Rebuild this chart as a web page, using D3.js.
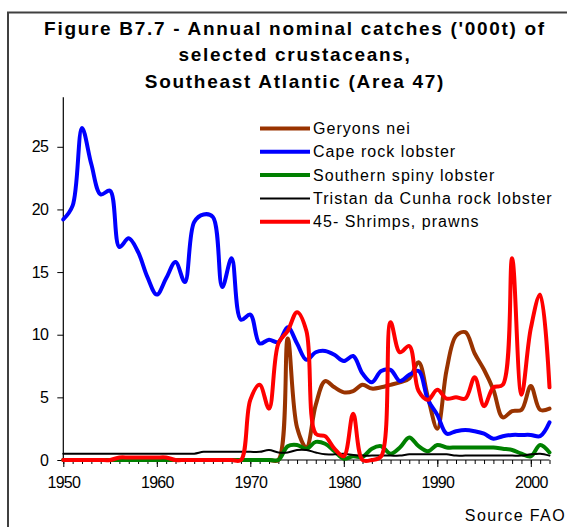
<!DOCTYPE html>
<html>
<head>
<meta charset="utf-8">
<script src="https://cdn.jsdelivr.net/npm/d3@7/dist/d3.min.js"></script>
<style>
  html, body { margin: 0; padding: 0; background: #fff; }
  svg { display: block; font-family: "Liberation Sans", Arial, sans-serif; }
</style>
</head>
<body>
<svg id="chart" width="567" height="527"></svg>
<script>
// Annual nominal catches ('000 t), Southeast Atlantic (Area 47), 1950-2002
const firstYear = 1950;
const lastYear = 2002;
const years = d3.range(firstYear, lastYear + 1);

const geryons = [
  0,0,0,0,0,0,0,0,0,0, 0,0,0,0,0,0,0,0,0,0, 0,0,0,0,
  9.7,2.6,1.0,4.4,6.3,5.8,
  5.4,5.5,6.0,5.7,5.8,6.0,6.2,6.5,7.8,5.0,
  2.5,7.2,9.9,10.2,8.5,7.2,5.6,3.4,3.9,4.0,
  5.9,4.0,4.1
];
const capeRockLobster = [
  19.2,20.3,26.5,23.6,21.2,21.5,17.0,17.7,16.6,14.6,
  13.2,14.5,15.8,14.2,19.0,19.6,19.4,13.8,16.1,11.2,
  11.6,9.3,9.6,9.4,10.6,9.3,8.0,8.6,8.7,8.4,
  7.9,8.3,6.9,6.2,7.1,7.2,6.3,6.8,7.1,4.8,
  3.6,2.1,2.3,2.4,2.3,2.1,1.7,1.9,2.0,2.0,
  2.0,1.9,3.0
];
const southernSpinyLobster = [
  0,0,0,0,0,0,0,0,0,0, 0,0,0,0,0,0,0,0,0,0, 0,0,0,0,
  1.1,1.2,0.9,1.45,1.3,0.7,
  0.1,0.3,0.25,0.9,1.1,0.5,1.0,1.8,1.1,0.7,
  1.2,1.0,1.0,1.0,1.0,1.0,1.0,0.9,0.8,0.5,
  0.3,1.2,0.6
];
const tristanRockLobster = [
  0.5,0.5,0.5,0.5,0.5,0.5,0.5,0.5,0.5,0.5,
  0.5,0.5,0.5,0.5,0.5,0.65,0.65,0.65,0.65,0.65,
  0.65,0.65,0.8,0.6,0.6,0.8,0.8,0.6,0.45,0.45,
  0.5,0.4,0.35,0.35,0.35,0.35,0.35,0.45,0.45,0.45,
  0.45,0.45,0.35,0.35,0.35,0.35,0.35,0.35,0.35,0.35,
  0.45,0.5,0.35
];
const shrimpsPrawns = [
  0,0,0,0,0,0,0.2,0.2,0.2,0.2,
  0.2,0.2,0,0,0,0,0,0,0,0,
  4.8,6.0,4.1,9.3,10.3,11.8,10.3,2.1,1.9,0.9,
  0.3,3.7,0,0,0.3,11.0,8.6,9.1,5.5,4.8,
  5.6,4.9,5.0,4.9,6.6,4.3,5.8,6.0,16.1,5.2,
  10.5,13.2,5.8
];

const seriesNames = [
  "Geryons nei",
  "Cape rock lobster",
  "Southern spiny lobster",
  "Tristan da Cunha rock lobster",
  "45- Shrimps, prawns"
];
const seriesValues = [geryons, capeRockLobster, southernSpinyLobster, tristanRockLobster, shrimpsPrawns];
const seriesColors = ["#993300", "#0000ff", "#008000", "#000000", "#ff0000"];
const seriesWidths = [4, 4, 4, 2, 4];

const yTicks = [0, 5, 10, 15, 20, 25];
const xTicks = [1950, 1960, 1970, 1980, 1990, 2000];
const yMax = 28.95;

const titleLines = [
  "Figure B7.7 - Annual nominal catches ('000t) of",
  "selected crustaceans,",
  "Southeast Atlantic (Area 47)"
];
const sourceNote = "Source FAO";

const svg = d3.select("#chart");

// chart frame (runs off the right and bottom edges)
svg.append("rect")
  .attr("x", 8).attr("y", 12.5)
  .attr("width", 600).attr("height", 560)
  .attr("fill", "#fff")
  .attr("stroke", "#404040")
  .attr("stroke-width", 2);

// title
svg.append("g").selectAll("text")
  .data(titleLines)
  .join("text")
  .attr("x", 295)
  .attr("y", (d, i) => 34.5 + i * 26.8)
  .attr("text-anchor", "middle")
  .attr("font-size", 19)
  .attr("font-weight", "bold")
  .attr("letter-spacing", "1.7px")
  .attr("fill", "#000")
  .text(d => d);

const x = d3.scaleLinear().domain([firstYear, lastYear]).range([63.3, 549.5]);
const y = d3.scaleLinear().domain([0, yMax]).range([460, 97.3]);

// y axis
const yAxis = svg.append("g")
  .attr("transform", "translate(63.3,0)")
  .call(d3.axisLeft(y).tickValues(yTicks).tickSize(6).tickPadding(9).tickFormat(d3.format("d")));
yAxis.select(".domain").attr("stroke", "#000").attr("stroke-width", 1.2).attr("d", `M0,${y(yMax)}V${y(0)}`);
yAxis.selectAll(".tick line").attr("stroke", "#000").attr("stroke-width", 1);
yAxis.selectAll(".tick text")
  .attr("font-size", 16)
  .attr("font-family", "Liberation Sans, Arial, sans-serif")
  .attr("letter-spacing", "-0.6px")
  .attr("fill", "#000");

// x axis: minor yearly ticks, major decade ticks
const xAxisG = svg.append("g").attr("transform", "translate(0,460)");
xAxisG.append("g")
  .call(d3.axisBottom(x).tickValues(years).tickSize(4).tickFormat(""))
  .call(g => g.select(".domain").remove())
  .selectAll(".tick line").attr("stroke", "#000").attr("stroke-width", 1);
const xMajor = xAxisG.append("g")
  .call(d3.axisBottom(x).tickValues(xTicks).tickSize(7).tickPadding(10).tickFormat(d3.format("d")));
xMajor.select(".domain").attr("stroke", "#000").attr("stroke-width", 1.2).attr("d", `M${x(firstYear)},0H${x(lastYear)}`);
xMajor.selectAll(".tick line").attr("stroke", "#000").attr("stroke-width", 1);
xMajor.selectAll(".tick text")
  .attr("font-size", 16)
  .attr("font-family", "Liberation Sans, Arial, sans-serif")
  .attr("letter-spacing", "-0.8px")
  .attr("fill", "#000");

// series lines (smoothed)
const line = d3.line()
  .x((d, i) => x(years[i]))
  .y(d => y(d))
  .curve(d3.curveCatmullRom.alpha(0.5));

svg.append("g").selectAll("path")
  .data(seriesValues)
  .join("path")
  .attr("d", d => line(d))
  .attr("fill", "none")
  .attr("stroke", (d, i) => seriesColors[i])
  .attr("stroke-width", (d, i) => seriesWidths[i])
  .attr("stroke-linejoin", "round")
  .attr("stroke-linecap", "round");

// legend
const legend = svg.append("g");
const legendRows = legend.selectAll("g")
  .data(seriesNames)
  .join("g")
  .attr("transform", (d, i) => `translate(260,${128.5 + i * 23.3})`);
legendRows.append("line")
  .attr("x1", 0).attr("x2", 50)
  .attr("y1", 0).attr("y2", 0)
  .attr("stroke", (d, i) => seriesColors[i])
  .attr("stroke-width", (d, i) => seriesWidths[i]);
legendRows.append("text")
  .attr("x", 53).attr("y", 5.5)
  .attr("font-size", 16)
  .attr("letter-spacing", "1.05px")
  .attr("fill", "#000")
  .text(d => d);

// source note
svg.append("text")
  .attr("x", 566).attr("y", 520.5)
  .attr("text-anchor", "end")
  .attr("font-size", 16)
  .attr("letter-spacing", "1.4px")
  .attr("fill", "#000")
  .text(sourceNote);
</script>
</body>
</html>
